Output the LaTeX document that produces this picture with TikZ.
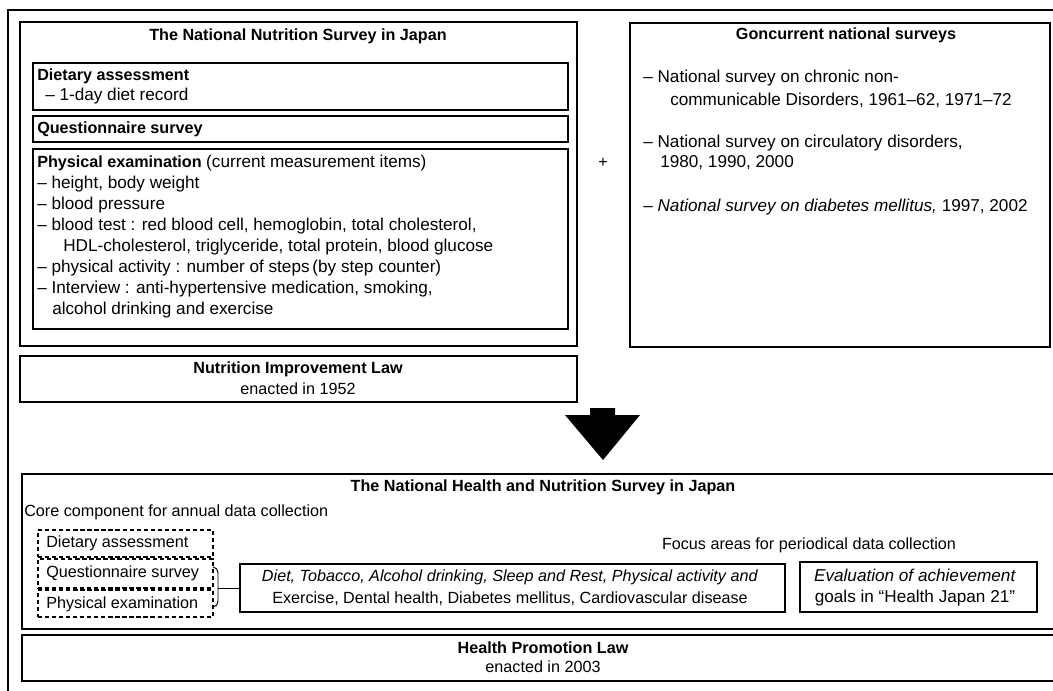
\documentclass[tikz,border=0pt]{standalone}
\usepackage{fontspec}
\setmainfont{Liberation Sans}
\usetikzlibrary{fit}

\tikzset{
  frame/.style={draw, line width=0.8pt, inner sep=0pt},
  dframe/.style={draw, line width=1.2pt, inner sep=0pt, dash pattern=on 3pt off 2pt},
  lbl/.style={font=\fontsize{11.5}{13.5}\selectfont, inner sep=0pt},
  hdr/.style={font=\fontsize{11.5}{13.5}\selectfont\bfseries, inner sep=0pt},
  row/.style={lbl, anchor=west},
  wrow/.style={font=\fontsize{12.2}{14}\selectfont, inner sep=0pt, anchor=west},
}

\begin{document}
\begin{tikzpicture}[x=0.025cm, y=-0.025cm]
  \clip (0,0) rectangle (1053,691);
  % outer frame, runs off the page on the right and bottom
  \draw[line width=0.8pt] (8,700) |- (1070,10);

  % ---- The National Nutrition Survey ----
  \node[frame, fit={(20,22) (577,346)}] (nns) {};
  \node[hdr] (nnsT) at (298,36) {The National Nutrition Survey in Japan};

  \node[frame, fit={(33,63) (568,110)}] (diet) {};
  \node[hdr, anchor=west] (dietT) at (37,76) {Dietary assessment};
  \node[wrow] (diet1) at (45,96) {– 1-day diet record};

  \node[frame, fit={(33,116) (568,142)}] (quest) {};
  \node[hdr, anchor=west] (questT) at (37,129) {Questionnaire survey};

  \node[frame, fit={(33,149) (568,329)}] (phys) {};
  \node[wrow] (physT) at (37,163) {\fontsize{11.5}{13.5}\selectfont\textbf{Physical examination}\ \fontsize{12.2}{14}\selectfont(current measurement items)};
  \node[wrow] (phys1) at (37,184) {– height, body weight};
  \node[wrow] (phys2) at (37,205) {– blood pressure};
  \node[wrow] (phys3) at (37,226) {– blood test : red blood cell, hemoglobin, total cholesterol,};
  \node[wrow] (phys4) at (63,247) {HDL-cholesterol, triglyceride, total protein, blood glucose};
  \node[wrow] (phys5) at (37,268) {– physical activity : number of steps\,(by step counter)};
  \node[wrow] (phys6) at (37,289) {– Interview : anti-hypertensive medication, smoking,};
  \node[wrow] (phys7) at (52,310) {alcohol drinking and exercise};

  % ---- law of 1952 ----
  \node[frame, fit={(20,356) (577,402)}] (nil) {};
  \node[hdr] (nilT) at (298,369) {Nutrition Improvement Law};
  \node[lbl] (nil1) at (298,389) {enacted in 1952};

  \node[lbl] (plus) at (603,163) {+};

  % ---- concurrent surveys ----
  \node[frame, fit={(630,23) (1050,347)}] (conc) {};
  \node[hdr] (concT) at (846,35) {Goncurrent national surveys};
  \node[wrow] (conc1) at (643,78) {– National survey on chronic non-};
  \node[wrow] (conc1b) at (670,100) {communicable Disorders, 1961–62, 1971–72};
  \node[wrow] (conc2) at (643,143) {– National survey on circulatory disorders,};
  \node[wrow] (conc2b) at (660,163) {1980, 1990, 2000};
  \node[wrow] (conc3) at (643,207) {– \textit{National survey on diabetes mellitus,} 1997, 2002};

  % ---- big arrow ----
  \fill (590,408) -- (615,408) -- (615,415) -- (640,415) -- (603,460)
        -- (565,415) -- (590,415) -- cycle;

  % ---- The National Health and Nutrition Survey ----
  \node[frame, fit={(22,474) (1070,629)}] (nhns) {};
  \node[hdr] (nhnsT) at (543,487) {The National Health and Nutrition Survey in Japan};
  \node[row] (core) at (24,512) {Core component for annual data collection};

  \node[dframe, fit={(38,530) (213,557)}] (cdiet) {};
  \node[row] (cdietT) at (46,543) {Dietary assessment};
  \node[dframe, fit={(38,559) (213,588)}] (cquest) {};
  \node[row] (cquestT) at (46,573) {Questionnaire survey};
  \node[dframe, fit={(38,590) (213,617)}] (cphys) {};
  \node[row] (cphysT) at (46,604) {Physical examination};

  \node[lbl] (focusT) at (809,545) {Focus areas for periodical data collection};
  \node[frame, fit={(240,564) (785,612)}] (focus) {};
  \node[lbl, align=center] (focusL) at (510,588)
    {\textit{Diet, Tobacco, Alcohol drinking, Sleep and Rest, Physical activity and}\\[2pt]
     Exercise, Dental health, Diabetes mellitus, Cardiovascular disease};
  \node[frame, fit={(800,562) (1037,612)}] (eval) {};
  \node[lbl, align=center, font=\fontsize{12.2}{14}\selectfont] (evalL) at (915,588)
    {\textit{Evaluation of achievement}\\[1pt] goals in “Health Japan 21”};

  % brace joining questionnaire and examination
  \coordinate (brace) at (218,588);
  \draw[line width=0.7pt] (213,567) to[out=0,in=90] (218,573) -- (218,601)
        to[out=-90,in=0] (213,607);
  \draw[line width=0.7pt] (brace) -- (focus.west);

  % ---- law of 2003 ----
  \node[frame, fit={(22,635) (1070,681)}] (hpl) {};
  \node[hdr] (hplT) at (543,648) {Health Promotion Law};
  \node[lbl] (hpl1) at (543,667) {enacted in 2003};
\end{tikzpicture}
\end{document}
